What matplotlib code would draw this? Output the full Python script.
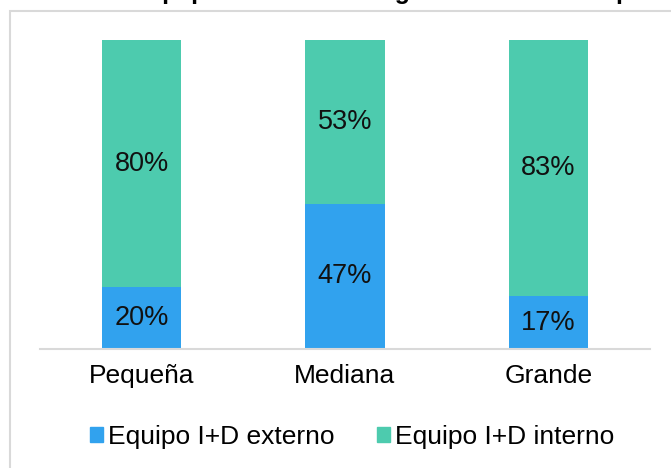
import matplotlib
matplotlib.use("Agg")
import matplotlib.pyplot as plt
from matplotlib.patches import Rectangle, Patch

plt.rcParams['font.family'] = ['Liberation Sans', 'DejaVu Sans']

categories = ["Pequeña", "Mediana", "Grande"]
externo = [20, 47, 17]
interno = [80, 53, 83]
series_names = ["Equipo I+D externo", "Equipo I+D interno"]
title = "Gráfico 11. Equipo I+D interno según tamaño de empresa"

c_ext = "#31A2EE"
c_int = "#4DCBAE"

W, H = 671, 468
fig = plt.figure(figsize=(W / 100, H / 100), dpi=100)

# outer frame (clipped at right/bottom like the reference)
fig.patches.append(Rectangle((9.5 / W, -0.1), 1.2, 1 - 11 / H + 0.1,
                             transform=fig.transFigure, fill=False,
                             edgecolor="#D9D9D9", linewidth=1.5))

# title: mostly cut off at the top edge, as in the reference
fig.text(2 / W, 1 + 0.5 / H, title, fontsize=18, fontweight="bold",
         ha="left", va="baseline", color="black")

ax = fig.add_axes([40 / W, 1 - 349 / H, 610 / W, 309 / H])
x = list(range(len(categories)))
ext_frac = [v / 100 for v in externo]
int_frac = [v / 100 for v in interno]
ax.bar(x, ext_frac, width=0.39, color=c_ext, label=series_names[0])
ax.bar(x, int_frac, width=0.39, bottom=ext_frac, color=c_int, label=series_names[1])

for i in x:
    ax.text(i, ext_frac[i] / 2, f"{externo[i]}%", ha="center", va="center",
            fontsize=19.5, color="#111111")
    ax.text(i, ext_frac[i] + int_frac[i] / 2, f"{interno[i]}%", ha="center",
            va="center", fontsize=19.5, color="#111111")

ax.set_xlim(-0.5, 2.5)
ax.set_ylim(0, 1)
ax.set_yticks([])
ax.set_xticks(x)
ax.set_xticklabels(categories, fontsize=19)
ax.tick_params(axis="x", length=0, pad=11)
for s in ["top", "right", "left"]:
    ax.spines[s].set_visible(False)
ax.spines["bottom"].set_color("#D9D9D9")
ax.spines["bottom"].set_linewidth(1.5)

handles = [Patch(color=c_ext), Patch(color=c_int)]
fig.legend(handles, series_names, loc="center", bbox_to_anchor=(352 / W, 1 - 437 / H),
           ncol=2, frameon=False, fontsize=19, handlelength=0.5, handleheight=0.5,
           handletextpad=0.2, columnspacing=1.6)

fig.savefig("out.png", dpi=100)
